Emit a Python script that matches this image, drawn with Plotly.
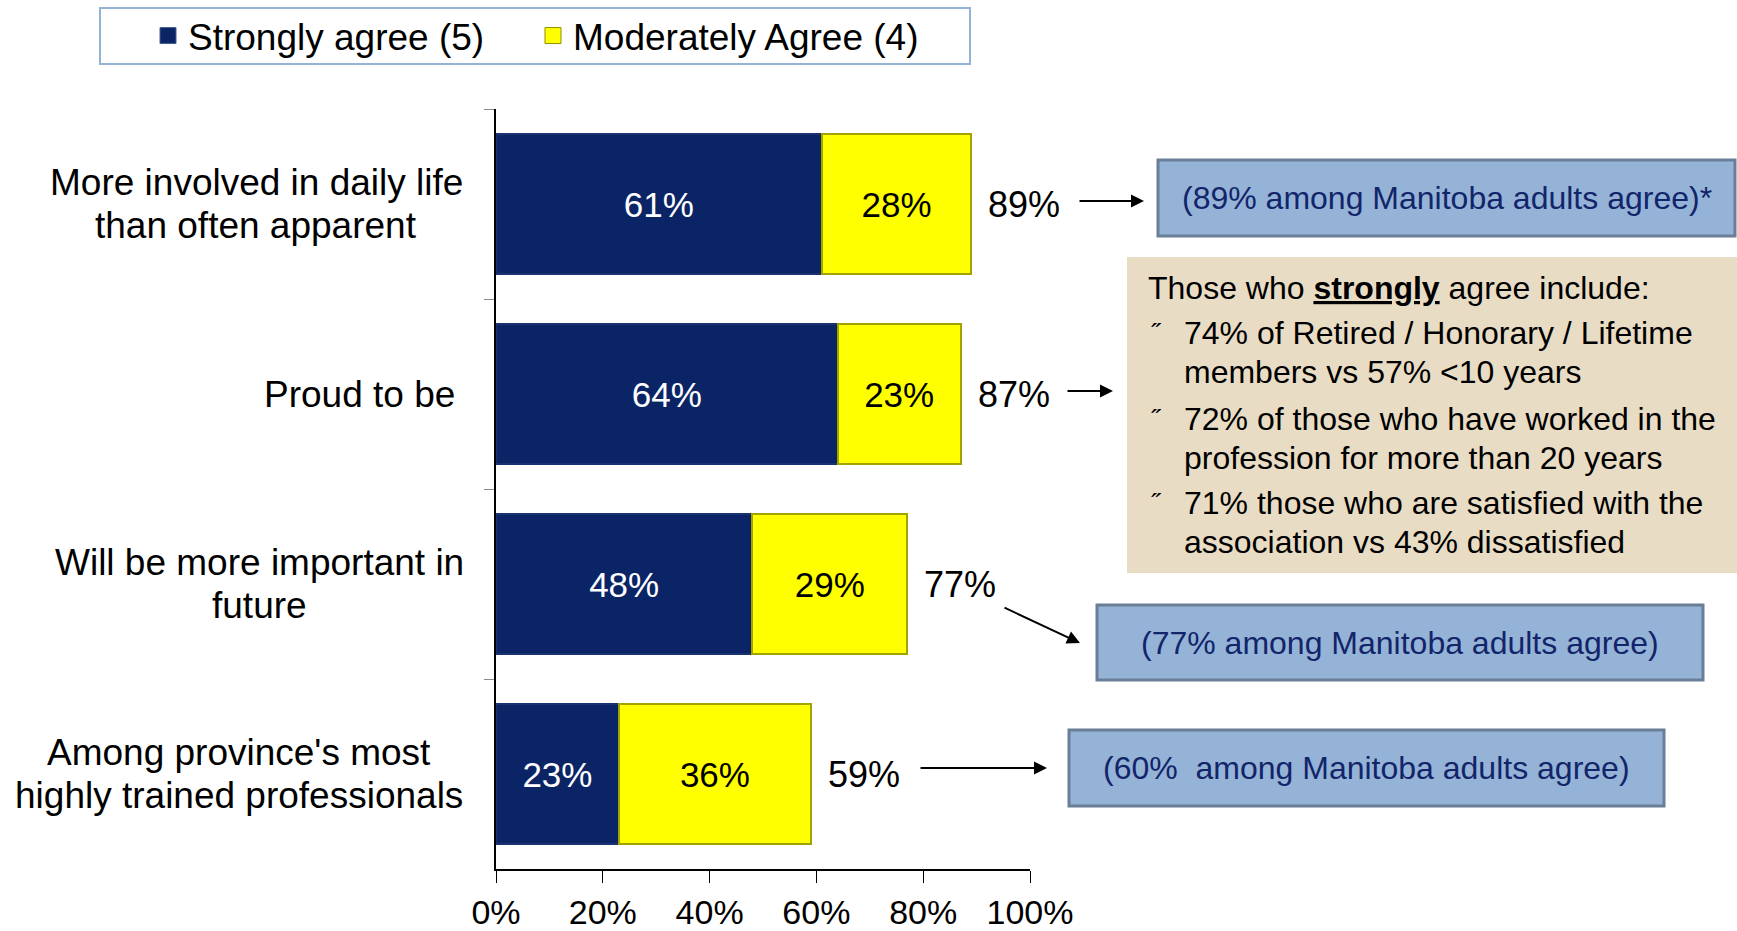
import plotly.graph_objects as go

# ---------------- data ----------------
categories = [
    "More involved in daily life than often apparent",
    "Proud to be",
    "Will be more important in future",
    "Among province's most highly trained professionals",
]
category_lines = [
    ["More involved in daily life", "than often apparent"],
    ["Proud to be"],
    ["Will be more important in", "future"],
    ["Among province's most", "highly trained professionals"],
]
strongly_agree = [61, 64, 48, 23]
moderately_agree = [28, 23, 29, 36]
total_agree = [89, 87, 77, 59]
x_tick_values = [0, 20, 40, 60, 80, 100]
x_tick_labels = ["0%", "20%", "40%", "60%", "80%", "100%"]
series_names = ["Strongly agree (5)", "Moderately Agree (4)"]

note_89 = "(89% among Manitoba adults agree)*"
note_77 = "(77% among Manitoba adults agree)"
note_60 = "(60%  among Manitoba adults agree)"
strong_header = "Those who <b><u>strongly</u></b> agree include:"
strong_lines = [
    "74% of Retired / Honorary / Lifetime",
    "members vs 57% <10 years",
    "72% of those who have worked in the",
    "profession for more than 20 years",
    "71% those who are satisfied with the",
    "association vs 43% dissatisfied",
]

# ---------------- layout geometry (pixels) ----------------
W, H = 1737, 931
L, R, T, B = 496, 1030, 109, 869
FONT = "Liberation Sans, Arial, sans-serif"
NAVY = "#0b2465"
YELLOW = "#ffff00"
NOTE_TXT = "#12256a"


def px(xp):
    return (xp - L) / (R - L)


def py(yp):
    return (B - yp) / (B - T)


fig = go.Figure()
fig.add_trace(go.Bar(
    y=categories, x=strongly_agree, orientation="h", name=series_names[0],
    marker=dict(color=NAVY, line=dict(color="#1a3172", width=2)),
    text=[f"{v}%" for v in strongly_agree], textposition="inside",
    insidetextanchor="middle", textangle=0, constraintext="none",
    textfont=dict(family=FONT, size=35, color="white"), showlegend=False,
))
fig.add_trace(go.Bar(
    y=categories, x=moderately_agree, orientation="h", name=series_names[1],
    marker=dict(color=YELLOW, line=dict(color="#a3a300", width=2)),
    text=[f"{v}%" for v in moderately_agree], textposition="inside",
    insidetextanchor="middle", textangle=0, constraintext="none",
    textfont=dict(family=FONT, size=35, color="black"), showlegend=False,
))
# legend entries (larger square swatches)
fig.add_trace(go.Scatter(
    x=[None], y=[None], mode="markers", name=series_names[0],
    marker=dict(symbol="square", size=16, color=NAVY, line=dict(color="#4a5f8f", width=1)),
))
fig.add_trace(go.Scatter(
    x=[None], y=[None], mode="markers", name=series_names[1],
    marker=dict(symbol="square", size=16, color=YELLOW, line=dict(color="#8f8f00", width=1)),
))

annotations = []
# category labels: centre of each text block (px) and line spacing
label_center_x = [256, 359, 259, 239]
LINE_GAP = 43
for cat, lines, cx in zip(categories, category_lines, label_center_x):
    n = len(lines)
    for j, ln in enumerate(lines):
        annotations.append(dict(
            x=px(cx), xref="paper", y=cat, yref="y", text=ln, showarrow=False,
            xanchor="center", yanchor="middle",
            yshift=-(j - (n - 1) / 2) * LINE_GAP,
            font=dict(family=FONT, size=37, color="black"),
        ))
# totals
for cat, t in zip(categories, total_agree):
    annotations.append(dict(
        x=t, xref="x", y=cat, yref="y", text=f"{t}%", showarrow=False,
        xanchor="left", yanchor="middle", xshift=15,
        font=dict(family=FONT, size=36, color="black"),
    ))
# arrows (head, tail)
arrows = [((1144, 201), (1078, 201)), ((1113, 391), (1066, 391)),
          ((1080, 643), (1003, 607)), ((1047, 768), (919, 768))]
for (hx, hy), (tx, ty) in arrows:
    annotations.append(dict(
        x=px(hx), y=py(hy), xref="paper", yref="paper", text="",
        showarrow=True, ax=tx - hx, ay=ty - hy, arrowhead=2,
        arrowsize=1.3, arrowwidth=2, arrowcolor="black", standoff=0,
    ))

shapes = []
# blue note boxes
for (x0, y0, x1, y1), txt in [((1158, 160, 1735, 236), note_89),
                              ((1097, 605, 1703, 680), note_77),
                              ((1069, 730, 1664, 806), note_60)]:
    shapes.append(dict(type="rect", xref="paper", yref="paper",
                       x0=px(x0), x1=px(x1), y0=py(y1), y1=py(y0),
                       fillcolor="#95b3d7", line=dict(color="#6a7f97", width=3)))
    annotations.append(dict(
        x=px((x0 + x1) / 2), y=py((y0 + y1) / 2), xref="paper", yref="paper",
        text=txt, showarrow=False, xanchor="center", yanchor="middle",
        font=dict(family=FONT, size=32, color=NOTE_TXT),
    ))
# beige box
shapes.append(dict(type="rect", xref="paper", yref="paper",
                   x0=px(1127), x1=px(1740), y0=py(573), y1=py(257),
                   fillcolor="#e9dcc4", line=dict(width=0)))
annotations.append(dict(
    x=px(1146), y=py(288), xref="paper", yref="paper", text=strong_header,
    showarrow=False, xanchor="left", yanchor="middle",
    font=dict(family=FONT, size=32, color="black"),
))
line_y = [333, 372, 419, 458, 503, 542]
for i, (ln, ly) in enumerate(zip(strong_lines, line_y)):
    annotations.append(dict(
        x=px(1182), y=py(ly), xref="paper", yref="paper", text=ln,
        showarrow=False, xanchor="left", yanchor="middle",
        font=dict(family=FONT, size=32, color="black"),
    ))
    if i % 2 == 0:
        annotations.append(dict(
            x=px(1149), y=py(ly), xref="paper", yref="paper", text="\u02dd",
            showarrow=False, xanchor="left", yanchor="middle",
            font=dict(family=FONT, size=26, color="black"),
        ))
# legend box
shapes.append(dict(type="rect", xref="paper", yref="paper",
                   x0=px(100), x1=px(970), y0=py(64), y1=py(8),
                   fillcolor="rgba(0,0,0,0)", line=dict(color="#95b3d7", width=2)))

fig.update_layout(
    width=W, height=H, autosize=False,
    margin=dict(l=L, r=W - R, t=T, b=H - B, pad=0, autoexpand=False),
    paper_bgcolor="white", plot_bgcolor="white",
    barmode="stack", bargap=0.26,
    font=dict(family=FONT, color="black"),
    showlegend=True,
    legend=dict(
        orientation="h", x=px(148), y=py(36), xanchor="left", yanchor="middle",
        font=dict(family=FONT, size=37, color="black"),
        bgcolor="rgba(0,0,0,0)", borderwidth=0, entrywidth=340,
        traceorder="normal",
    ),
    xaxis=dict(
        range=[0, 100], tickmode="array", tickvals=x_tick_values,
        ticktext=x_tick_labels,
        showgrid=False, zeroline=False, showline=True, linecolor="black",
        linewidth=1.5, ticks="outside", ticklen=12, tickcolor="black",
        tickwidth=1.2, tickfont=dict(family=FONT, size=34, color="black"),
        fixedrange=True,
    ),
    yaxis=dict(
        categoryorder="array", categoryarray=categories, autorange="reversed",
        showgrid=False, zeroline=False, showline=True, linecolor="black",
        linewidth=1.5, ticks="outside", ticklen=10, tickcolor="#8a8a8a",
        tickson="boundaries", showticklabels=False, fixedrange=True,
    ),
    annotations=annotations, shapes=shapes,
)

fig.write_html("out.html", config={"displayModeBar": False},
               post_script="document.body.style.margin='0';document.body.style.padding='0';")
